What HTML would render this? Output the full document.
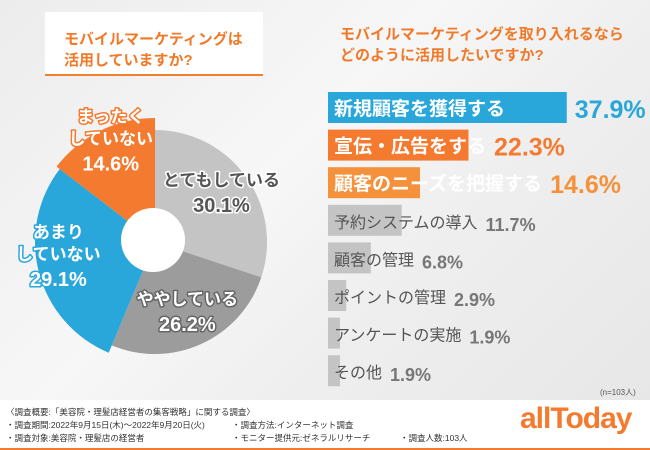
<!DOCTYPE html>
<html><head><meta charset="utf-8">
<style>
body{margin:0;}
#root{position:relative;width:650px;height:450px;overflow:hidden;font-family:"Liberation Sans","Noto Sans CJK JP",sans-serif;background:linear-gradient(135deg,#ececec 0%,#f7f7f7 40%,#efefef 60%,#e6e6e6 100%);}
.tbox{position:absolute;background:#fff;border-bottom:2px solid #f08030;color:#f07a2a;font-weight:bold;font-size:15px;line-height:21px;}
.lbl{position:absolute;font-weight:bold;white-space:nowrap;}
.foot{position:absolute;left:0;top:400px;width:650px;height:48px;background:#fff;border-bottom:3px solid #f47a30;font-size:8.5px;color:#333;}
.foot div{position:absolute;white-space:nowrap;}
</style></head><body>
<div id="root">
<div class="tbox" style="left:45px;top:12px;width:218px;height:62px;"><div style="padding:17px 0 0 19px">モバイルマーケティングは<br>活用していますか?</div></div>
<div class="tbox" style="left:320px;top:12px;width:330px;height:62px;background:transparent;border:none;white-space:nowrap"><div style="padding:12px 0 0 20px">モバイルマーケティングを取り入れるなら<br>どのように活用したいですか?</div></div>
<svg id="pie" width="650" height="450" style="position:absolute;left:0;top:0"></svg>
<svg id="bars" width="650" height="450" style="position:absolute;left:0;top:0"></svg>
<div class="lbl" style="left:600px;top:387px;font-size:8px;color:#555;font-weight:normal">(n=103人)</div>
<div class="foot">
<div style="left:6px;top:6px">〈調査概要:「美容院・理髪店経営者の集客戦略」に関する調査〉</div>
<div style="left:6px;top:19px">・調査期間:2022年9月15日(木)〜2022年9月20日(火)</div>
<div style="left:6px;top:32px">・調査対象:美容院・理髪店の経営者</div>
<div style="left:232px;top:19px">・調査方法:インターネット調査</div>
<div style="left:232px;top:32px">・モニター提供元:ゼネラルリサーチ</div>
<div style="left:400px;top:32px">・調査人数:103人</div>
<div style="left:520px;top:2px;font-size:30px;color:#f47a30;font-weight:bold;letter-spacing:-1px">allToday</div>
</div>
</div>
<script>
const pieLabels=["とてもしている","ややしている","あまりしていない","まったくしていない"];
const pieValues=[30.1,26.2,29.1,14.6];
const barCats=["新規顧客を獲得する","宣伝・広告をする","顧客のニーズを把握する","予約システムの導入","顧客の管理","ポイントの管理","アンケートの実施","その他"];
const barValues=[37.9,22.3,14.6,11.7,6.8,2.9,1.9,1.9];

const NS="http://www.w3.org/2000/svg";
function mk(t,a,p){const e=document.createElementNS(NS,t);for(const k in a)e.setAttribute(k,a[k]);p.appendChild(e);return e;}
const pie=document.getElementById('pie');
const cx=155,cy=242;
const cols=["#c4c4c4","#9c9c9c","#2aa7da","#f47a30"];
const radii=[112,112,120,124];
const labR=[82,78,100,100];
const txtCols=["#555","#fff","#fff","#fff"];
const strokeCols=["#fff","#666","#2aa7da","#f47a30"];
const total=pieValues.reduce((a,b)=>a+b,0);
let a0=0;
pieValues.forEach((v,i)=>{
 const a1=a0+v/total*2*Math.PI,r=radii[i];
 const p=(a)=>[cx+r*Math.sin(a),cy-r*Math.cos(a)];
 const [x0,y0]=p(a0),[x1,y1]=p(a1);
 const path=mk('path',{d:`M${cx},${cy}L${x0},${y0}A${r},${r} 0 ${a1-a0>Math.PI?1:0} 1 ${x1},${y1}Z`,fill:cols[i]},pie);
 
 
 a0=a1;
});
a0=0;
pieValues.forEach((v,i)=>{
 const a1=a0+v/total*2*Math.PI;
 const am=(a0+a1)/2,lr=labR[i];
 const lx=cx+lr*Math.sin(am),ly=cy-lr*Math.cos(am);
 const name=pieLabels[i];
 const lines=name.length>7?[name.slice(0,name.length-5),name.slice(name.length-5)]:[name];
 const g=mk('g',{},pie);
 
 
 const n=lines.length;
 const st={'text-anchor':'middle','font-weight':'bold',fill:txtCols[i],stroke:strokeCols[i],'stroke-width':3,'paint-order':'stroke','stroke-linejoin':'round'};
 lines.forEach((l,j)=>{const t=mk('text',Object.assign({x:lx,y:ly-8-(n-1-j)*22,'font-size':17},st),g);t.textContent=l;});
 const t=mk('text',Object.assign({x:lx,y:ly+18,'font-size':20},st),g);
 t.textContent=v.toFixed(1)+'%';
 a0=a1;
});
const hole=mk('circle',{cx:153,cy:240,r:32,fill:'#fff'},pie);


pie.insertBefore(hole,pie.querySelector('g'));

const bars=document.getElementById('bars');
const bx=328,scale=6.3,by0=92,step=37.6,bh=31;
const bcols=["#2aa7da","#f47a30","#f4913a","#c4c4c4"];
const tcol=["#fff","#fff","#fff","#555"];
const vcol=["#2aa7da","#f47a30","#f4913a","#777"];
barValues.forEach((v,i)=>{
 const y=by0+i*step,w=v*scale,k=Math.min(i,3);
 const r=mk('rect',{x:bx,y:y,width:w,height:bh,fill:bcols[k]},bars);
 
 
 const t=mk('text',{x:bx+6,y:y+23,'font-size':i<3?19:16,'font-weight':i<3?'bold':'normal',fill:tcol[k]},bars);
 
 
 t.textContent=barCats[i];
 const tw=t.getComputedTextLength();
 const vx=Math.max(bx+w,bx+6+tw)+8;
 const vt=mk('text',{x:vx,y:y+26,'font-size':i<3?25:18,'font-weight':'bold',fill:vcol[k]},bars);
 
 
 vt.textContent=v.toFixed(1)+'%';
});
</script>
</body></html>
